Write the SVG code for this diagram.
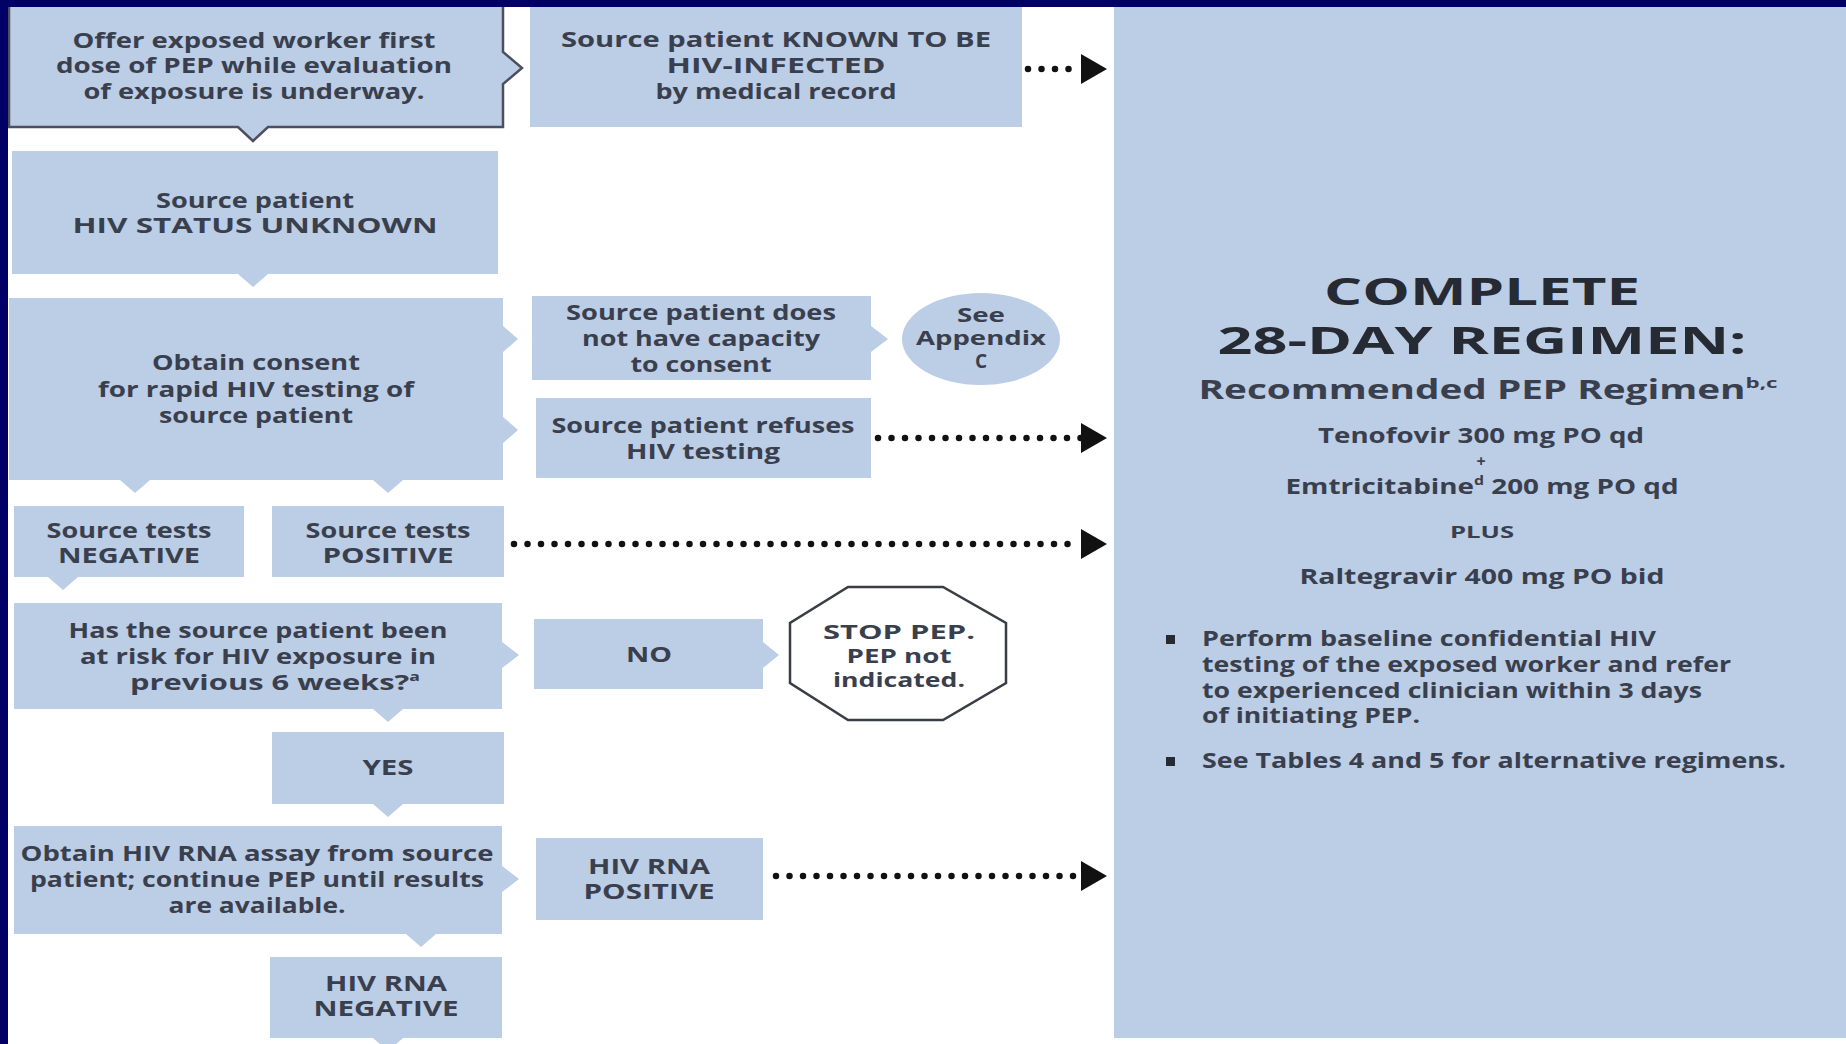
<svg xmlns="http://www.w3.org/2000/svg" width="1846" height="1044" viewBox="0 0 1846 1044">
<style>
.box{fill:#bccde6}
.t{font-family:"Open Sans","Liberation Sans",sans-serif;font-weight:700;font-size:21px;fill:#3a3f4d;text-anchor:middle}
.l{text-anchor:start}
.h{font-size:38px;fill:#262a33}
.sub{font-size:26px}
.sm{font-size:16px}
.s19{font-size:19px}
.dot{fill:none;stroke:#111;stroke-width:6.5;stroke-linecap:round;stroke-dasharray:0 13.5}
</style>
<defs>
<marker id="ah" markerUnits="userSpaceOnUse" markerWidth="28" markerHeight="32" refX="0" refY="15" orient="auto">
<path d="M0,0 L26,15 L0,30 Z" fill="#111"/>
</marker>
</defs>
<rect x="0" y="0" width="1846" height="1044" fill="#ffffff"/>

<g id="panel">
<rect class="box" x="1114" y="7" width="732" height="1031"/>
<text class="t h" x="1482" y="305" textLength="316" lengthAdjust="spacingAndGlyphs">COMPLETE</text>
<text class="t h" x="1482" y="354" textLength="529" lengthAdjust="spacingAndGlyphs">28-DAY REGIMEN:</text>
<text class="t sub" x="1488" y="399" textLength="579" lengthAdjust="spacingAndGlyphs">Recommended PEP Regimen<tspan font-size="15" dy="-11">b,c</tspan></text>
<text class="t" x="1481" y="443" textLength="326" lengthAdjust="spacingAndGlyphs">Tenofovir 300 mg PO qd</text>
<text class="t sm" x="1481" y="467">+</text>
<text class="t" x="1482" y="494" textLength="393" lengthAdjust="spacingAndGlyphs">Emtricitabine<tspan font-size="12" dy="-9">d</tspan><tspan dy="9"> 200 mg PO qd</tspan></text>
<text class="t sm" x="1482" y="538" textLength="64" lengthAdjust="spacingAndGlyphs">PLUS</text>
<text class="t" x="1482" y="584" textLength="365" lengthAdjust="spacingAndGlyphs">Raltegravir 400 mg PO bid</text>
<rect x="1166" y="635" width="9" height="9" fill="#262a33"/>
<text class="t l" x="1202" y="646" textLength="454" lengthAdjust="spacingAndGlyphs">Perform baseline confidential HIV</text>
<text class="t l" x="1202" y="672" textLength="529" lengthAdjust="spacingAndGlyphs">testing of the exposed worker and refer</text>
<text class="t l" x="1202" y="698" textLength="500" lengthAdjust="spacingAndGlyphs">to experienced clinician within 3 days</text>
<text class="t l" x="1202" y="723" textLength="218" lengthAdjust="spacingAndGlyphs">of initiating PEP.</text>
<rect x="1166" y="757" width="9" height="9" fill="#262a33"/>
<text class="t l" x="1202" y="768" textLength="584" lengthAdjust="spacingAndGlyphs">See Tables 4 and 5 for alternative regimens.</text>
</g>

<g id="offer">
<path class="box" d="M9,2 V127 H238 L253,141 L268,127 H503 V84 L522,68 L503,52 V2 Z" stroke="#4d4f5c" stroke-width="2.5"/>
<text class="t" x="254" y="48" textLength="363" lengthAdjust="spacingAndGlyphs">Offer exposed worker first</text>
<text class="t" x="254" y="73" textLength="396" lengthAdjust="spacingAndGlyphs">dose of PEP while evaluation</text>
<text class="t" x="254" y="99" textLength="341" lengthAdjust="spacingAndGlyphs">of exposure is underway.</text>
</g>

<g id="known">
<rect class="box" x="530" y="7" width="492" height="120"/>
<text class="t" x="776" y="47" textLength="430" lengthAdjust="spacingAndGlyphs">Source patient KNOWN TO BE</text>
<text class="t" x="776" y="73" textLength="219" lengthAdjust="spacingAndGlyphs">HIV-INFECTED</text>
<text class="t" x="776" y="99" textLength="241" lengthAdjust="spacingAndGlyphs">by medical record</text>
</g>

<g id="unknown">
<path class="box" d="M12,151 H498 V274 H268 L253,287 L238,274 H12 Z"/>
<text class="t" x="255" y="208" textLength="198" lengthAdjust="spacingAndGlyphs">Source patient</text>
<text class="t" x="255" y="233" textLength="365" lengthAdjust="spacingAndGlyphs">HIV STATUS UNKNOWN</text>
</g>

<g id="consent">
<path class="box" d="M9,298 H503 V326 L518,339 L503,352 V417 L518,430 L503,443 V480 H403 L388,493 L373,480 H150 L135,493 L120,480 H9 Z"/>
<text class="t" x="256" y="370" textLength="208" lengthAdjust="spacingAndGlyphs">Obtain consent</text>
<text class="t" x="256" y="397" textLength="316" lengthAdjust="spacingAndGlyphs">for rapid HIV testing of</text>
<text class="t" x="256" y="423" textLength="194" lengthAdjust="spacingAndGlyphs">source patient</text>
</g>

<g id="capacity">
<path class="box" d="M532,296 H871 V326 L888,339 L871,352 V380 H532 Z"/>
<text class="t" x="701" y="320" textLength="270" lengthAdjust="spacingAndGlyphs">Source patient does</text>
<text class="t" x="701" y="346" textLength="238" lengthAdjust="spacingAndGlyphs">not have capacity</text>
<text class="t" x="701" y="372" textLength="141" lengthAdjust="spacingAndGlyphs">to consent</text>
</g>

<g id="appendix">
<ellipse class="box" cx="981" cy="339" rx="79" ry="46"/>
<text class="t s19" x="981" y="322" textLength="48" lengthAdjust="spacingAndGlyphs">See</text>
<text class="t s19" x="981" y="345" textLength="130" lengthAdjust="spacingAndGlyphs">Appendix</text>
<text class="t s19" x="981" y="368">C</text>
</g>

<g id="refuses">
<rect class="box" x="536" y="398" width="335" height="80"/>
<text class="t" x="703" y="433" textLength="303" lengthAdjust="spacingAndGlyphs">Source patient refuses</text>
<text class="t" x="703" y="459" textLength="154" lengthAdjust="spacingAndGlyphs">HIV testing</text>
</g>

<g id="negative">
<path class="box" d="M14,506 H244 V577 H78 L63,590 L48,577 H14 Z"/>
<text class="t" x="129" y="538" textLength="165" lengthAdjust="spacingAndGlyphs">Source tests</text>
<text class="t" x="129" y="563" textLength="142" lengthAdjust="spacingAndGlyphs">NEGATIVE</text>
</g>

<g id="positive">
<rect class="box" x="272" y="506" width="232" height="71"/>
<text class="t" x="388" y="538" textLength="165" lengthAdjust="spacingAndGlyphs">Source tests</text>
<text class="t" x="388" y="563" textLength="131" lengthAdjust="spacingAndGlyphs">POSITIVE</text>
</g>

<g id="risk">
<path class="box" d="M14,603 H502 V642 L519,655 L502,668 V709 H403 L388,722 L373,709 H14 Z"/>
<text class="t" x="258" y="638" textLength="379" lengthAdjust="spacingAndGlyphs">Has the source patient been</text>
<text class="t" x="258" y="664" textLength="356" lengthAdjust="spacingAndGlyphs">at risk for HIV exposure in</text>
<text class="t" x="275" y="690" textLength="290" lengthAdjust="spacingAndGlyphs">previous 6 weeks?<tspan font-size="12" dy="-9">a</tspan></text>
</g>

<g id="no">
<path class="box" d="M534,619 H763 V642 L779,655 L763,668 V689 H534 Z"/>
<text class="t" x="649" y="662" textLength="46" lengthAdjust="spacingAndGlyphs">NO</text>
</g>

<g id="stop">
<polygon points="848,587 943,587 1006,623 1006,683 943,720 848,720 790,683 790,623" fill="#ffffff" stroke="#3b3d45" stroke-width="2.5"/>
<text class="t s19" x="899" y="639" textLength="152" lengthAdjust="spacingAndGlyphs">STOP PEP.</text>
<text class="t s19" x="899" y="663" textLength="105" lengthAdjust="spacingAndGlyphs">PEP not</text>
<text class="t s19" x="899" y="687" textLength="132" lengthAdjust="spacingAndGlyphs">indicated.</text>
</g>

<g id="yes">
<path class="box" d="M272,732 H504 V804 H403 L388,817 L373,804 H272 Z"/>
<text class="t" x="388" y="775" textLength="51" lengthAdjust="spacingAndGlyphs">YES</text>
</g>

<g id="rna">
<path class="box" d="M14,826 H502 V866 L519,879 L502,892 V934 H436 L421,947 L406,934 H14 Z"/>
<text class="t" x="257" y="861" textLength="473" lengthAdjust="spacingAndGlyphs">Obtain HIV RNA assay from source</text>
<text class="t" x="257" y="887" textLength="454" lengthAdjust="spacingAndGlyphs">patient; continue PEP until results</text>
<text class="t" x="257" y="913" textLength="177" lengthAdjust="spacingAndGlyphs">are available.</text>
</g>

<g id="rnapos">
<rect class="box" x="536" y="838" width="227" height="82"/>
<text class="t" x="649" y="874" textLength="122" lengthAdjust="spacingAndGlyphs">HIV RNA</text>
<text class="t" x="649" y="899" textLength="131" lengthAdjust="spacingAndGlyphs">POSITIVE</text>
</g>

<g id="rnaneg">
<path class="box" d="M270,957 H502 V1038 H403 L388,1051 L373,1038 H270 Z"/>
<text class="t" x="386" y="991" textLength="122" lengthAdjust="spacingAndGlyphs">HIV RNA</text>
<text class="t" x="386" y="1016" textLength="145" lengthAdjust="spacingAndGlyphs">NEGATIVE</text>
</g>

<g id="connectors">
<path class="dot" d="M1028,69 H1081" marker-end="url(#ah)"/>
<path class="dot" d="M878,438 H1081" marker-end="url(#ah)"/>
<path class="dot" d="M514,544 H1081" marker-end="url(#ah)"/>
<path class="dot" d="M776,876 H1081" marker-end="url(#ah)"/>
</g>

<g id="frame">
<rect x="0" y="0" width="1846" height="7" fill="#000066"/>
<rect x="0" y="0" width="8" height="1044" fill="#000066"/>
</g>
</svg>
